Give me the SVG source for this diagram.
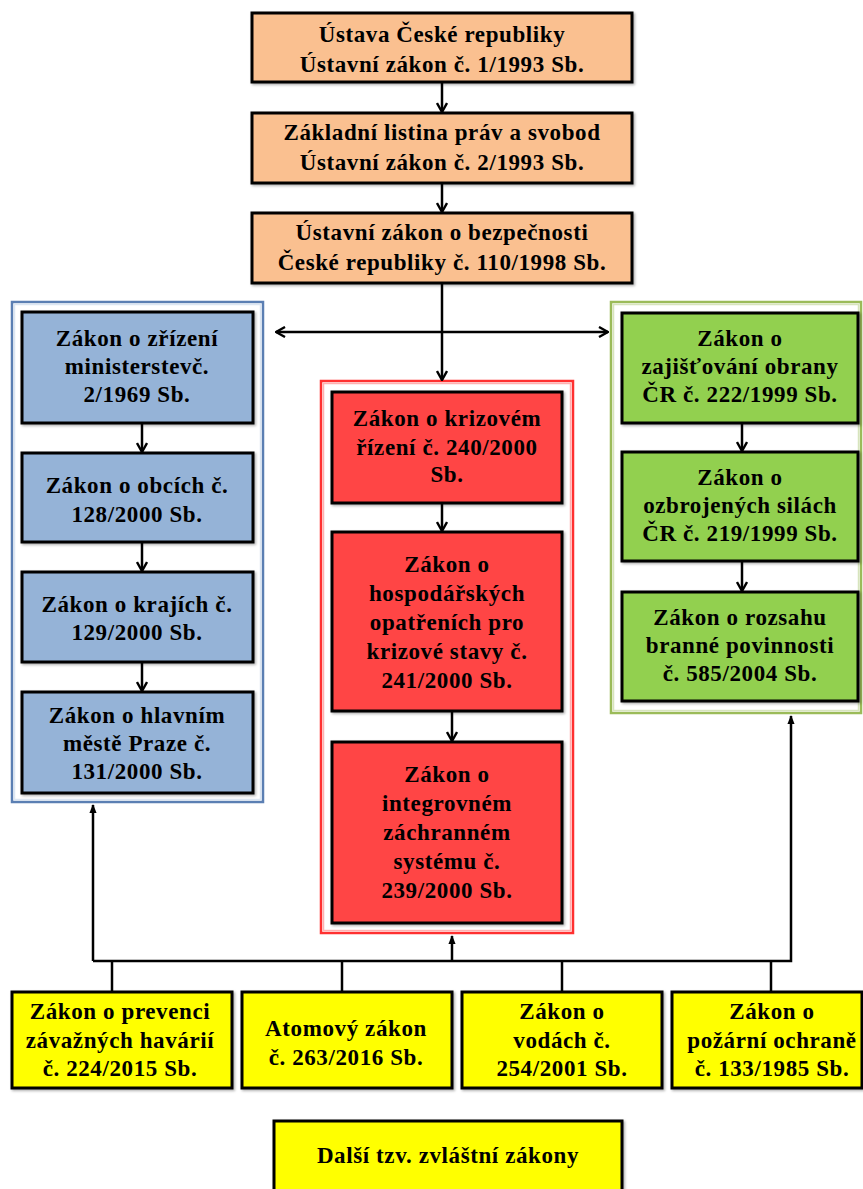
<svg xmlns="http://www.w3.org/2000/svg" width="863" height="1189" viewBox="0 0 863 1189">
  <defs>
    <marker id="chev" viewBox="0 0 12 12" refX="11" refY="6" markerWidth="12" markerHeight="12" markerUnits="userSpaceOnUse" orient="auto">
      <polyline points="2,1 11,6 2,11" fill="none" stroke="#000" stroke-width="2.4"/>
    </marker>
    <marker id="tri" viewBox="0 0 10 10" refX="9" refY="5" markerWidth="9" markerHeight="9" markerUnits="userSpaceOnUse" orient="auto">
      <path d="M0,1 L10,5 L0,9 Z" fill="#000"/>
    </marker>
    <filter id="sh" x="-5%" y="-5%" width="115%" height="120%">
      <feDropShadow dx="1.5" dy="1.5" stdDeviation="1" flood-color="#000" flood-opacity="0.3"/>
    </filter>
  </defs>
  <style>
    text { font-family: "Liberation Serif", "Times New Roman", serif; font-weight: bold; font-size: 23px; letter-spacing: 0.6px; fill: #000; text-anchor: middle; }
    .box { stroke: #000; stroke-width: 3; filter: url(#sh); }
    .orange { fill: #FAC090; }
    .blue { fill: #95B3D7; }
    .red { fill: #FF4545; }
    .green { fill: #92D050; }
    .yellow { fill: #FFFF00; }
    .frame { fill: none; stroke-width: 2.5; }
    .line { fill: none; stroke: #000; stroke-width: 2.5; }
  </style>

  <rect width="863" height="1189" fill="#fff"/>

  <!-- group frames -->
  <g id="frames">
    <rect class="frame" x="12" y="302" width="251" height="500" stroke="#5B7FB3"/>
    <rect x="14.5" y="304.5" width="246" height="495" fill="none" stroke="#DCE6F2" stroke-width="1.5"/>
    <rect class="frame" x="321" y="381" width="252" height="552" stroke="#FF3030"/>
    <rect x="323.5" y="383.5" width="247" height="547" fill="none" stroke="#FFB0B0" stroke-width="1.5"/>
    <rect class="frame" x="611" y="302" width="250" height="411" stroke="#9BBB59"/>
    <rect x="613.5" y="304.5" width="245" height="406" fill="none" stroke="#D7E4BD" stroke-width="1.5"/>
  </g>

  <!-- connectors -->
  <g id="connectors">
    <line class="line" x1="442" y1="82" x2="442" y2="112" marker-end="url(#chev)"/>
    <line class="line" x1="442" y1="183" x2="442" y2="212" marker-end="url(#chev)"/>
    <line class="line" x1="442" y1="283" x2="442" y2="380" marker-end="url(#chev)"/>
    <line class="line" x1="442" y1="332" x2="276" y2="332" marker-end="url(#chev)"/>
    <line class="line" x1="442" y1="332" x2="608" y2="332" marker-end="url(#chev)"/>

    <line class="line" x1="142" y1="423" x2="142" y2="452" marker-end="url(#chev)"/>
    <line class="line" x1="142" y1="542" x2="142" y2="571" marker-end="url(#chev)"/>
    <line class="line" x1="142" y1="662" x2="142" y2="691" marker-end="url(#chev)"/>

    <line class="line" x1="442" y1="503" x2="442" y2="531" marker-end="url(#chev)"/>
    <line class="line" x1="452" y1="711" x2="452" y2="741" marker-end="url(#chev)"/>

    <line class="line" x1="742" y1="423" x2="742" y2="451" marker-end="url(#chev)"/>
    <line class="line" x1="742" y1="561" x2="742" y2="591" marker-end="url(#chev)"/>

    <polyline class="line" points="93,961 93,805" marker-end="url(#tri)"/>
    <polyline class="line" points="93,961 791,961 791,716" marker-end="url(#tri)"/>
    <line class="line" x1="452" y1="961" x2="452" y2="936" marker-end="url(#tri)"/>
    <line class="line" x1="112" y1="961" x2="112" y2="992"/>
    <line class="line" x1="342" y1="961" x2="342" y2="992"/>
    <line class="line" x1="562" y1="961" x2="562" y2="992"/>
    <line class="line" x1="771" y1="961" x2="771" y2="992"/>
  </g>

  <!-- constitutional acts -->
  <g id="ustava">
    <rect class="box orange" x="252" y="13" width="380" height="69"/>
    <text x="442" y="42">Ústava České republiky</text>
    <text x="442" y="72">Ústavní zákon č. 1/1993 Sb.</text>
  </g>
  <g id="listina">
    <rect class="box orange" x="252" y="113" width="380" height="70"/>
    <text x="442" y="140">Základní listina práv a svobod</text>
    <text x="442" y="170">Ústavní zákon č. 2/1993 Sb.</text>
  </g>
  <g id="bezpecnost">
    <rect class="box orange" x="252" y="213" width="380" height="70"/>
    <text x="442" y="240">Ústavní zákon o bezpečnosti</text>
    <text x="442" y="270">České republiky č. 110/1998 Sb.</text>
  </g>

  <!-- public administration -->
  <g id="ministerstva">
    <rect class="box blue" x="22" y="312" width="231" height="111"/>
    <text x="137" y="346">Zákon o zřízení</text>
    <text x="137" y="374">ministerstevč.</text>
    <text x="137" y="402">2/1969 Sb.</text>
  </g>
  <g id="obce">
    <rect class="box blue" x="22" y="453" width="231" height="89"/>
    <text x="137" y="493">Zákon o obcích č.</text>
    <text x="137" y="522">128/2000 Sb.</text>
  </g>
  <g id="kraje">
    <rect class="box blue" x="22" y="572" width="231" height="90"/>
    <text x="137" y="612">Zákon o krajích č.</text>
    <text x="137" y="640">129/2000 Sb.</text>
  </g>
  <g id="praha">
    <rect class="box blue" x="22" y="692" width="231" height="101"/>
    <text x="137" y="723">Zákon o  hlavním</text>
    <text x="137" y="751">městě Praze č.</text>
    <text x="137" y="779">131/2000 Sb.</text>
  </g>

  <!-- crisis legislation -->
  <g id="krizove-rizeni">
    <rect class="box red" x="332" y="392" width="230" height="111"/>
    <text x="447" y="426">Zákon o krizovém</text>
    <text x="447" y="455">řízení č. 240/2000</text>
    <text x="447" y="482">Sb.</text>
  </g>
  <g id="hospodarska-opatreni">
    <rect class="box red" x="332" y="532" width="230" height="179"/>
    <text x="447" y="572">Zákon o</text>
    <text x="447" y="601">hospodářských</text>
    <text x="447" y="630">opatřeních pro</text>
    <text x="447" y="659">krizové stavy č.</text>
    <text x="447" y="688">241/2000 Sb.</text>
  </g>
  <g id="izs">
    <rect class="box red" x="332" y="742" width="230" height="181"/>
    <text x="447" y="782">Zákon o</text>
    <text x="447" y="811">integrovném</text>
    <text x="447" y="840">záchranném</text>
    <text x="447" y="869">systému č.</text>
    <text x="447" y="898">239/2000 Sb.</text>
  </g>

  <!-- defence legislation -->
  <g id="obrana">
    <rect class="box green" x="622" y="313" width="236" height="110"/>
    <text x="740" y="346">Zákon o</text>
    <text x="740" y="374">zajišťování obrany</text>
    <text x="740" y="402">ČR č. 222/1999  Sb.</text>
  </g>
  <g id="ozbrojene-sily">
    <rect class="box green" x="622" y="452" width="236" height="109"/>
    <text x="740" y="485">Zákon o</text>
    <text x="740" y="513">ozbrojených silách</text>
    <text x="740" y="541">ČR č. 219/1999  Sb.</text>
  </g>
  <g id="branna-povinnost">
    <rect class="box green" x="622" y="592" width="236" height="109"/>
    <text x="740" y="625">Zákon o rozsahu</text>
    <text x="740" y="653">branné povinnosti</text>
    <text x="740" y="681">č. 585/2004 Sb.</text>
  </g>

  <!-- special acts -->
  <g id="prevence-havarii">
    <rect class="box yellow" x="12" y="992" width="220" height="96"/>
    <text x="120" y="1019">Zákon o  prevenci</text>
    <text x="120" y="1048">závažných havárií</text>
    <text x="120" y="1076">č. 224/2015 Sb.</text>
  </g>
  <g id="atomovy">
    <rect class="box yellow" x="242" y="992" width="210" height="96"/>
    <text x="346" y="1036">Atomový  zákon</text>
    <text x="346" y="1065">č. 263/2016 Sb.</text>
  </g>
  <g id="vody">
    <rect class="box yellow" x="462" y="992" width="200" height="96"/>
    <text x="562" y="1019">Zákon o</text>
    <text x="562" y="1048">vodách  č.</text>
    <text x="562" y="1076">254/2001 Sb.</text>
  </g>
  <g id="pozarni-ochrana">
    <rect class="box yellow" x="672" y="992" width="190" height="96"/>
    <text x="772" y="1019">Zákon o</text>
    <text x="772" y="1048">požární ochraně</text>
    <text x="772" y="1076">č. 133/1985 Sb.</text>
  </g>
  <g id="dalsi-zakony">
    <rect class="box yellow" x="274" y="1121" width="348" height="80"/>
    <text x="448" y="1163">Další tzv. zvláštní zákony</text>
  </g>
</svg>
